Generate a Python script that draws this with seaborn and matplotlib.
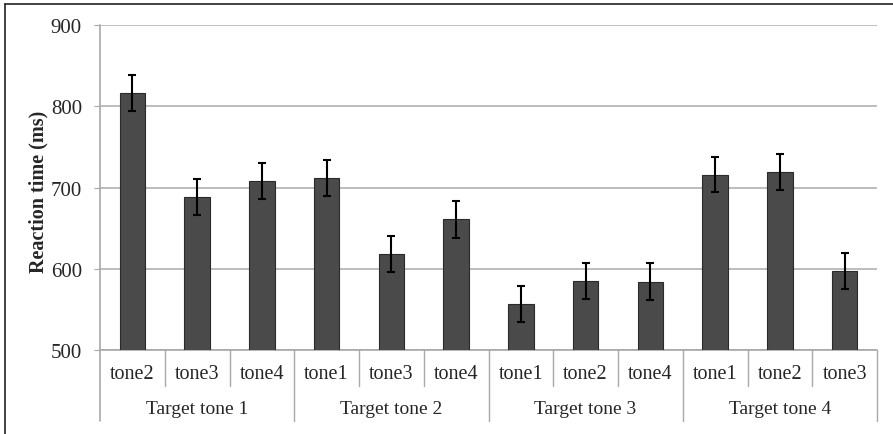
import numpy as np
import pandas as pd
import matplotlib
matplotlib.use("Agg")
import matplotlib.pyplot as plt
import seaborn as sns
from matplotlib.lines import Line2D

groups = ["Target tone 1", "Target tone 2", "Target tone 3", "Target tone 4"]
tones = [["tone2", "tone3", "tone4"],
         ["tone1", "tone3", "tone4"],
         ["tone1", "tone2", "tone4"],
         ["tone1", "tone2", "tone3"]]
rt_mean = [816, 688, 708, 712, 618, 661, 557, 585, 584, 716, 719, 597]
rt_err = [22, 22, 22, 22, 22, 23, 22, 22, 23, 22, 22, 22]

labels = [t for g in tones for t in g]
keys = [f"{g}|{t}" for g, ts in zip(groups, tones) for t in ts]
df = pd.DataFrame({"key": keys, "tone": labels, "rt": rt_mean, "err": rt_err})

sns.set_style("white")
plt.rcParams["font.family"] = ["Liberation Serif", "DejaVu Serif"]

fig = plt.figure(figsize=(8.93, 4.35), dpi=100)
ax = fig.add_axes([100 / 893, 84 / 435, 777 / 893, 325 / 435])

sns.barplot(data=df, x="key", y="rt", order=keys, color="#4a4a4a",
            saturation=1, width=0.39, edgecolor="#2a2a2a", linewidth=0.8,
            errorbar=None, ax=ax, zorder=3)
ax.errorbar(np.arange(len(keys)), df["rt"], yerr=df["err"], fmt="none",
            ecolor="black", elinewidth=1.5, capsize=3, capthick=1.5, zorder=4)

ax.set_ylim(500, 900)
ax.set_xlim(-0.5, len(keys) - 0.5)
ax.set_yticks([500, 600, 700, 800, 900])
ax.yaxis.grid(True, color="#b8b8b8", linewidth=1.3, zorder=0)
ax.set_axisbelow(True)
for s in ax.spines.values():
    s.set_visible(False)
ax.tick_params(axis="y", direction="out", length=4, color="#a8a8a8",
               labelsize=15, pad=9, left=True)
ax.tick_params(axis="x", bottom=False, labelbottom=False)
ax.set_xlabel("")
ax.set_ylabel("Reaction time (ms)", fontsize=14.5, fontweight="bold")
ax.yaxis.set_label_coords(-52 / 777, 0.49)

# two-level category axis
trans = ax.get_xaxis_transform()
gray = "#a8a8a8"
ax.add_line(Line2D([-0.5, len(keys) - 0.5], [0, 0], transform=trans,
                   color=gray, lw=1.2, clip_on=False))
ax.add_line(Line2D([-0.5, -0.5], [1, -0.2175], transform=trans,
                   color=gray, lw=1.2, clip_on=False))
for i in range(1, len(keys) + 1):
    bottom = -0.2175 if i % 3 == 0 else -0.11
    ax.add_line(Line2D([i - 0.5, i - 0.5], [0, bottom], transform=trans,
                       color=gray, lw=1.0, clip_on=False))
for i, t in enumerate(labels):
    ax.text(i, -0.072, t, transform=trans, ha="center", va="center", fontsize=14.5)
for j, g in enumerate(groups):
    ax.text(3 * j + 1, -0.18, g, transform=trans, ha="center", va="center", fontsize=14)

# frame of the original picture (top and left edges)
fig.add_artist(Line2D([5 / 893, 1], [1 - 5 / 435, 1 - 5 / 435],
                      transform=fig.transFigure, color="#222222", lw=1.2))
fig.add_artist(Line2D([5 / 893, 5 / 893], [0, 1 - 5 / 435],
                      transform=fig.transFigure, color="#222222", lw=1.2))

fig.savefig("out.png", dpi=100)
